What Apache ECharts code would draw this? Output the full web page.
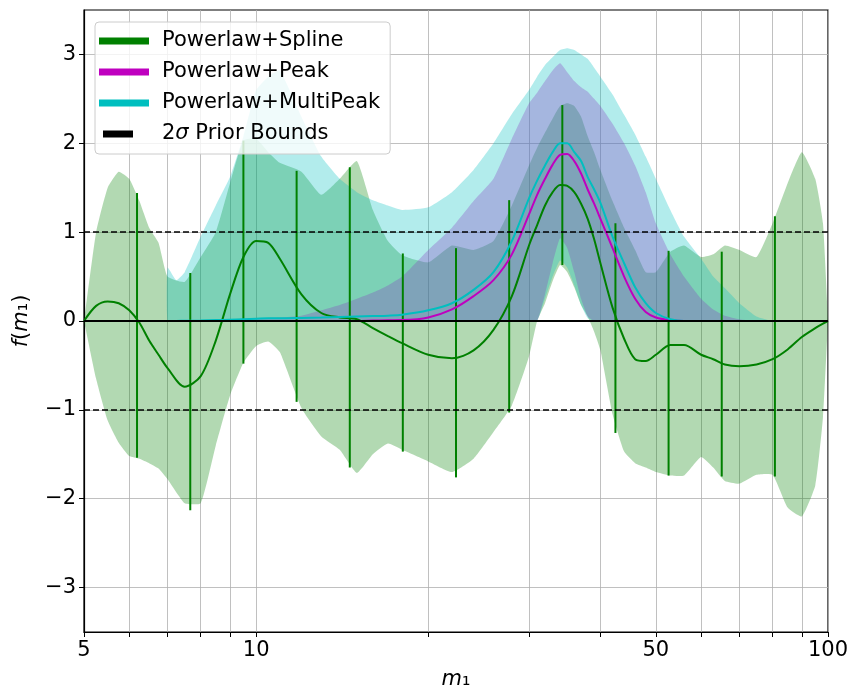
<!DOCTYPE html>
<html>
<head>
<meta charset="utf-8">
<script src="https://cdn.jsdelivr.net/npm/echarts@6/dist/echarts.min.js"></script>
<style>
html, body { margin: 0; padding: 0; background: #fff; }
#chart { width: 853px; height: 688px; }
</style>
</head>
<body>
<div id="chart"></div>
<script>
// tick labels / grid positions
var tickLabelMass = [5, 10, 50, 100];
var tickMass = [5, 6, 7, 8, 9, 10, 20, 30, 40, 50, 60, 70, 80, 90, 100];
var yTicks = [-3, -2, -1, 0, 1, 2, 3];
var priorBounds = [-1, 1];

// Powerlaw+Spline
var splineMass = [5, 5.25, 5.5, 5.75, 6, 6.25, 6.5, 6.75, 7, 7.5, 8, 8.5, 9, 9.5, 10, 10.5, 11, 12, 13, 14, 15, 16, 17, 18, 20, 22, 24, 26, 28, 30, 31, 32, 33, 34, 35, 36, 37, 38, 39, 40, 42, 44, 46, 48, 50, 53, 56, 60, 63, 66, 70, 75, 80, 85, 90, 95, 98, 100];
var splineMedian = [0, 0.17, 0.22, 0.2, 0.12, -0.02, -0.22, -0.38, -0.53, -0.74, -0.62, -0.22, 0.3, 0.72, 0.9, 0.88, 0.7, 0.3, 0.09, 0.04, 0.02, -0.08, -0.17, -0.25, -0.38, -0.42, -0.33, -0.1, 0.28, 0.85, 1.08, 1.3, 1.45, 1.53, 1.52, 1.45, 1.32, 1.15, 0.92, 0.65, 0.15, -0.2, -0.43, -0.45, -0.38, -0.27, -0.27, -0.38, -0.43, -0.49, -0.51, -0.49, -0.43, -0.32, -0.18, -0.08, -0.03, 0];
var splineHigh = [0, 1.0, 1.5, 1.68, 1.6, 1.35, 1.05, 0.88, 0.5, 0.44, 0.72, 1.0, 1.55, 2.03, 2.05, 1.9, 1.78, 1.68, 1.42, 1.6, 1.8, 1.25, 0.9, 0.74, 0.66, 0.85, 0.8, 0.9, 1.3, 1.75, 1.95, 2.12, 2.28, 2.42, 2.45, 2.42, 2.3, 2.08, 1.9, 1.7, 1.35, 1.05, 0.8, 0.55, 0.55, 0.78, 0.85, 0.72, 0.75, 0.85, 0.8, 0.72, 1.1, 1.55, 1.9, 1.6, 1.1, 0];
var splineLow = [0, -0.65, -1.12, -1.37, -1.52, -1.55, -1.6, -1.66, -1.78, -2.05, -2.05, -1.4, -0.84, -0.47, -0.28, -0.23, -0.35, -0.98, -1.3, -1.45, -1.71, -1.5, -1.38, -1.45, -1.58, -1.7, -1.55, -1.25, -0.95, -0.4, 0, 0.2, 0.45, 0.63, 0.55, 0.38, 0.18, 0.05, -0.12, -0.33, -1.05, -1.47, -1.6, -1.65, -1.7, -1.74, -1.74, -1.53, -1.65, -1.8, -1.83, -1.73, -1.73, -2.1, -2.2, -1.85, -1.08, 0];

// spline knots
var knotMass = [6.19, 7.67, 9.50, 11.77, 14.58, 18.05, 22.36, 27.70, 34.31, 42.49, 52.63, 65.19, 80.75];
var knotLow = [-1.54, -2.13, -0.48, -0.91, -1.65, -1.47, -1.76, -1.03, 0.63, -1.26, -1.74, -1.75, -1.75];
var knotHigh = [1.44, 0.54, 2.03, 1.69, 1.73, 0.76, 0.82, 1.36, 2.43, 1.10, 0.79, 0.78, 1.18];

// Powerlaw+Peak and Powerlaw+MultiPeak
var peakMass = [7, 7.25, 7.5, 8, 8.5, 9, 9.5, 10, 10.5, 11, 12, 13, 14, 15, 16, 17, 18, 20, 22, 24, 26, 28, 30, 31, 32, 33, 34, 35, 36, 37, 38, 39, 40, 42, 44, 46, 48, 50, 53, 56, 60, 63, 66, 70, 75, 80, 85, 90, 95, 100];
var peakMedian = [0, 0, 0, 0, 0, 0, 0, 0, 0, 0, 0, 0, 0, 0, 0.005, 0.008, 0.01, 0.04, 0.13, 0.28, 0.46, 0.75, 1.2, 1.42, 1.6, 1.76, 1.87, 1.88, 1.8, 1.66, 1.48, 1.32, 1.15, 0.82, 0.5, 0.25, 0.1, 0.04, 0.01, 0, 0, 0, 0, 0, 0, 0, 0, 0, 0, 0];
var peakHigh = [0, 0.003, 0.005, 0.01, 0.015, 0.02, 0.025, 0.03, 0.035, 0.04, 0.06, 0.12, 0.18, 0.25, 0.32, 0.4, 0.5, 0.8, 1.05, 1.35, 1.6, 2.05, 2.45, 2.57, 2.7, 2.82, 2.9, 2.8, 2.7, 2.63, 2.58, 2.5, 2.42, 2.22, 2.0, 1.75, 1.45, 1.1, 0.75, 0.5, 0.25, 0.13, 0.06, 0.02, 0, 0, 0, 0, 0, 0];
var peakLow = [0, 0, 0, 0, 0, 0, 0, 0, 0, 0, 0, 0, 0, 0, 0, 0, 0, 0, 0, 0, 0, 0, 0, 0, 0.3, 0.65, 0.93, 0.82, 0.55, 0.25, 0.05, 0, 0, 0, 0, 0, 0, 0, 0, 0, 0, 0, 0, 0, 0, 0, 0, 0, 0, 0];
var multiMedian = [0, 0, 0.003, 0.005, 0.01, 0.015, 0.02, 0.025, 0.03, 0.03, 0.035, 0.04, 0.045, 0.05, 0.055, 0.06, 0.07, 0.12, 0.2, 0.35, 0.55, 0.9, 1.38, 1.58, 1.75, 1.9, 2.0, 2.0, 1.9, 1.8, 1.62, 1.48, 1.33, 0.95, 0.65, 0.38, 0.2, 0.09, 0.02, 0, 0, 0, 0, 0, 0, 0, 0, 0, 0, 0];
var multiHigh = [0.6, 0.46, 0.55, 0.95, 1.3, 1.62, 2.08, 2.6, 2.75, 2.82, 2.3, 1.85, 1.6, 1.45, 1.36, 1.3, 1.25, 1.28, 1.45, 1.7, 2.0, 2.33, 2.6, 2.75, 2.88, 2.97, 3.05, 3.07, 3.05, 3.0, 2.95, 2.85, 2.75, 2.55, 2.32, 2.1, 1.85, 1.6, 1.25, 0.95, 0.7, 0.5, 0.37, 0.2, 0.05, 0, 0, 0, 0, 0];
var multiLow = [0, 0, 0, 0, 0, 0, 0, 0, 0, 0, 0, 0, 0, 0, 0, 0, 0, 0, 0, 0, 0, 0, 0, 0, 0.25, 0.5, 0.68, 0.6, 0.4, 0.18, 0.03, 0, 0, 0, 0, 0, 0, 0, 0, 0, 0, 0, 0, 0, 0, 0, 0, 0, 0, 0];

var FONT = 'DejaVu Sans';
var FS = 21;
var GREEN = '#008000', MAGENTA = '#bf00bf', CYAN = '#00bfbf';

function pairs(xs, ys) {
    return xs.map(function (x, i) { return [x, ys[i]]; });
}

// filled credible band, drawn as one polygon through the axes
function bandSeries(xs, lo, hi, fill) {
    return {
        type: 'custom',
        silent: true,
        z: 1,
        data: xs.map(function (x, i) { return [x, lo[i], hi[i]]; }),
        encode: {x: 0, y: [1, 2]},
        renderItem: function (params, api) {
            if (params.dataIndex !== 0) return null;
            var pts = [];
            for (var i = 0; i < xs.length; i++) pts.push(api.coord([xs[i], hi[i]]));
            for (var j = xs.length - 1; j >= 0; j--) pts.push(api.coord([xs[j], lo[j]]));
            return {
                type: 'polygon',
                shape: {points: pts, smooth: 0.15},
                style: {fill: fill, stroke: null}
            };
        }
    };
}

function medianSeries(name, xs, ys, color) {
    return {
        type: 'line',
        name: name,
        color: color,
        data: pairs(xs, ys),
        symbol: 'none',
        smooth: 0.3,
        z: 3,
        lineStyle: {width: 2, color: color}
    };
}

var myChart = echarts.init(document.getElementById('chart'));

var option = {
    animation: false,
    backgroundColor: '#fff',
    grid: {
        left: 84, right: 25, top: 10, bottom: 56,
        containLabel: false,
        outerBoundsMode: 'none',
        show: true, borderColor: '#000', borderWidth: 1.2, backgroundColor: 'transparent'
    },
    legend: {
        orient: 'vertical',
        left: 95,
        top: 22,
        selectedMode: false,
        data: [
            {name: 'Powerlaw+Spline', icon: 'rect'},
            {name: 'Powerlaw+Peak', icon: 'rect'},
            {name: 'Powerlaw+MultiPeak', icon: 'rect'},
            {name: '2σ Prior Bounds', icon: 'path://M0,0 M4,0h30v7h-30z M50,7'}
        ],
        itemWidth: 50,
        itemHeight: 7,
        itemGap: 7,
        padding: [7, 10, 8, 4],
        backgroundColor: 'rgba(255,255,255,0.8)',
        borderColor: '#cccccc',
        borderWidth: 1,
        borderRadius: 4,
        formatter: function (name) {
            return name === '2σ Prior Bounds' ? '2{s|σ} Prior Bounds' : name;
        },
        textStyle: {
            fontFamily: FONT, fontSize: FS, lineHeight: 24, color: '#000', padding: [0, 0, 0, 8],
            rich: {s: {fontFamily: FONT, fontSize: FS, lineHeight: 24, fontStyle: 'italic', color: '#000'}}
        }
    },
    xAxis: {
        type: 'log',
        logBase: 10,
        min: 5,
        max: 100,
        name: '{i|m}₁',
        nameLocation: 'middle',
        nameGap: 37,
        nameTextStyle: {
            fontFamily: FONT, fontSize: FS, color: '#000',
            rich: {i: {fontFamily: FONT, fontSize: FS, fontStyle: 'italic', color: '#000'}}
        },
        axisLine: {onZero: false, lineStyle: {color: '#000', width: 1.2}},
        axisTick: {show: true, customValues: tickMass, length: 5, lineStyle: {color: '#000'}},
        axisLabel: {
            customValues: tickLabelMass,
            fontFamily: FONT, fontSize: FS, color: '#000', margin: 8,
            formatter: function (v) { return String(Math.round(v)); }
        },
        splitLine: {show: true, lineStyle: {color: '#b0b0b0', width: 0.8}}
    },
    yAxis: {
        type: 'value',
        min: -3.5,
        max: 3.5,
        name: '{i|f}({i|m}₁)',
        nameLocation: 'middle',
        nameRotate: 90,
        nameGap: 52,
        nameTextStyle: {
            fontFamily: FONT, fontSize: FS, color: '#000',
            rich: {i: {fontFamily: FONT, fontSize: FS, fontStyle: 'italic', color: '#000'}}
        },
        axisLine: {show: true, lineStyle: {color: '#000', width: 1.2}},
        axisTick: {show: true, customValues: yTicks, length: 5, lineStyle: {color: '#000'}},
        axisLabel: {
            customValues: yTicks,
            fontFamily: FONT, fontSize: FS, color: '#000', margin: 8,
            formatter: function (v) { return v < 0 ? '\u2212' + Math.abs(v) : String(v); }
        },
        splitLine: {show: true, lineStyle: {color: '#b0b0b0', width: 0.8}}
    },
    series: [
        bandSeries(splineMass, splineLow, splineHigh, 'rgba(0,128,0,0.3)'),
        bandSeries(peakMass, peakLow, peakHigh, 'rgba(191,0,191,0.3)'),
        bandSeries(peakMass, multiLow, multiHigh, 'rgba(0,191,191,0.3)'),
        {
            type: 'custom',
            name: 'knots',
            silent: true,
            z: 2,
            data: knotMass.map(function (x, i) { return [x, knotLow[i], knotHigh[i]]; }),
            encode: {x: 0, y: [1, 2]},
            renderItem: function (params, api) {
                var a = api.coord([api.value(0), api.value(1)]);
                var b = api.coord([api.value(0), api.value(2)]);
                return {
                    type: 'line',
                    shape: {x1: a[0], y1: a[1], x2: b[0], y2: b[1]},
                    style: {stroke: GREEN, lineWidth: 2}
                };
            }
        },
        medianSeries('Powerlaw+Spline', splineMass, splineMedian, GREEN),
        medianSeries('Powerlaw+Peak', peakMass, peakMedian, MAGENTA),
        medianSeries('Powerlaw+MultiPeak', peakMass, multiMedian, CYAN),
        {
            type: 'line',
            name: '2σ Prior Bounds',
            color: '#000',
            data: [],
            z: 4,
            markLine: {
                silent: true,
                symbol: 'none',
                animation: false,
                label: {show: false},
                lineStyle: {color: '#000', type: [6, 3], width: 1.5},
                data: priorBounds.map(function (v) { return {yAxis: v}; }).concat([
                    {yAxis: 0, lineStyle: {color: '#000', type: 'solid', width: 2}}
                ])
            }
        }
    ]
};

myChart.setOption(option);
</script>
</body>
</html>
